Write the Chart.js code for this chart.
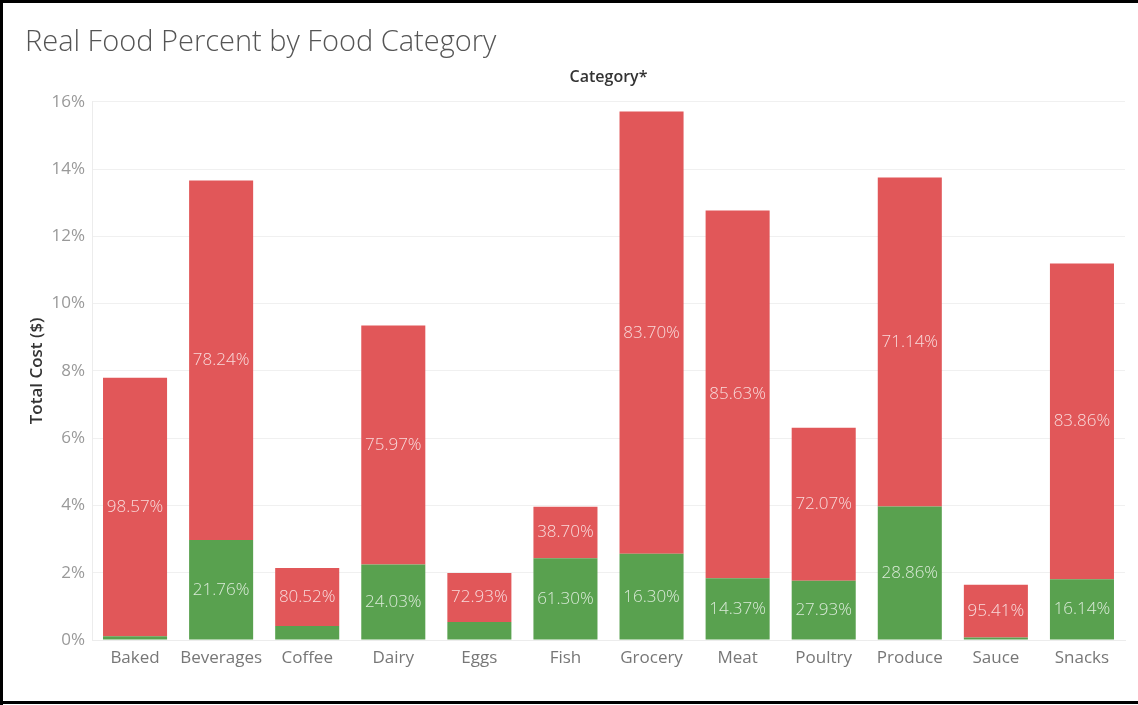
<!DOCTYPE html>
<html>
<head>
<meta charset="utf-8">
<title>Real Food Percent by Food Category</title>
<script src="https://cdn.jsdelivr.net/npm/chart.js@4.4.0/dist/chart.umd.min.js"></script>
<style>
  html, body { margin: 0; padding: 0; background: #fff; }
  #wrap { width: 1138px; height: 705px; }
</style>
</head>
<body>
<div id="wrap"><canvas id="food-chart" width="1138" height="705"></canvas></div>
<script>
// Share of total cost per category (%), and the real-food share of each bar (%)
const categories = ['Baked', 'Beverages', 'Coffee', 'Dairy', 'Eggs', 'Fish', 'Grocery', 'Meat', 'Poultry', 'Produce', 'Sauce', 'Snacks'];
const totalCost = [7.80, 13.66, 2.14, 9.35, 1.99, 3.96, 15.71, 12.77, 6.31, 13.75, 1.64, 11.19];
const realShare = [1.43, 21.76, 19.48, 24.03, 27.07, 61.30, 16.30, 14.37, 27.93, 28.86, 4.59, 16.14];
const yTicks = [0, 2, 4, 6, 8, 10, 12, 14, 16];

const realCost = totalCost.map((t, i) => t * realShare[i] / 100);
const otherCost = totalCost.map((t, i) => t - realCost[i]);

const FONT = '"Open Sans", "DejaVu Sans", sans-serif';

// percent labels in the middle of each segment (skipped when the segment is too thin)
const segmentLabels = {
  id: 'segmentLabels',
  afterDatasetsDraw(chart) {
    const c = chart.ctx;
    c.save();
    c.font = '300 17px ' + FONT;
    c.textAlign = 'center';
    c.textBaseline = 'middle';
    c.fillStyle = 'rgba(255, 255, 255, 0.78)';
    chart.data.datasets.forEach((ds, di) => {
      chart.getDatasetMeta(di).data.forEach((bar, i) => {
        const h = Math.abs(bar.base - bar.y);
        if (h < 20) return;
        const share = di === 0 ? realShare[i] : 100 - realShare[i];
        c.fillText(share.toFixed(2) + '%', bar.x, (bar.y + bar.base) / 2);
      });
    });
    c.restore();
  }
};

// "Category*" header over the plot, plus white background and frame
const frame = {
  id: 'frame',
  beforeDraw(chart) {
    const c = chart.ctx;
    c.save();
    c.fillStyle = '#fff';
    c.fillRect(0, 0, chart.width, chart.height);
    c.restore();
  },
  afterDraw(chart) {
    const c = chart.ctx;
    const area = chart.chartArea;
    c.save();
    c.font = '600 16px ' + FONT;
    c.fillStyle = '#333';
    c.textAlign = 'center';
    c.textBaseline = 'middle';
    c.fillText('Category*', (area.left + area.right) / 2, 77);
    c.fillStyle = '#000';
    c.fillRect(0, 0, chart.width, 3);
    c.fillRect(0, 0, 3, chart.height);
    c.fillRect(0, 701, chart.width, 3);
    c.restore();
  }
};

const ctx = document.getElementById('food-chart').getContext('2d');
const foodChart = new Chart(ctx, {
  type: 'bar',
  data: {
    labels: categories,
    datasets: [{
      label: 'Real Food',
      data: realCost,
      backgroundColor: '#59a14f',
      categoryPercentage: 0.744,
      barPercentage: 1
    }, {
      label: 'Other',
      data: otherCost,
      backgroundColor: '#e15759',
      categoryPercentage: 0.744,
      barPercentage: 1
    }]
  },
  options: {
    responsive: false,
    devicePixelRatio: 1,
    animation: false,
    layout: { padding: { left: 25, right: 13, top: 0, bottom: 0 } },
    plugins: {
      legend: { display: false },
      tooltip: { enabled: false },
      title: {
        display: true,
        text: 'Real Food Percent by Food Category',
        align: 'start',
        color: '#555',
        font: { family: FONT, size: 29, weight: 300 },
        padding: { top: 25, bottom: 42 }
      }
    },
    scales: {
      x: {
        stacked: true,
        afterFit(scale) { scale.height = 65; },
        grid: { display: false, drawTicks: false },
        border: { color: '#ececec' },
        ticks: {
          color: '#777',
          font: { family: FONT, size: 17 },
          padding: 8,
          autoSkip: false,
          maxRotation: 0,
          minRotation: 0
        }
      },
      y: {
        stacked: true,
        min: 0,
        max: 16,
        afterFit(scale) { scale.width = 67; },
        afterBuildTicks(scale) { scale.ticks = yTicks.map(v => ({ value: v })); },
        grid: { color: '#f0f0f0', drawTicks: false },
        border: { color: '#ececec' },
        ticks: {
          color: '#999',
          font: { family: FONT, size: 17 },
          padding: 7,
          callback: v => v + '%'
        },
        title: {
          display: true,
          text: 'Total Cost ($)',
          color: '#333',
          font: { family: FONT, size: 17, weight: 600 },
          padding: { top: 2, bottom: 0 }
        }
      }
    }
  },
  plugins: [segmentLabels, frame]
});
</script>
</body>
</html>
